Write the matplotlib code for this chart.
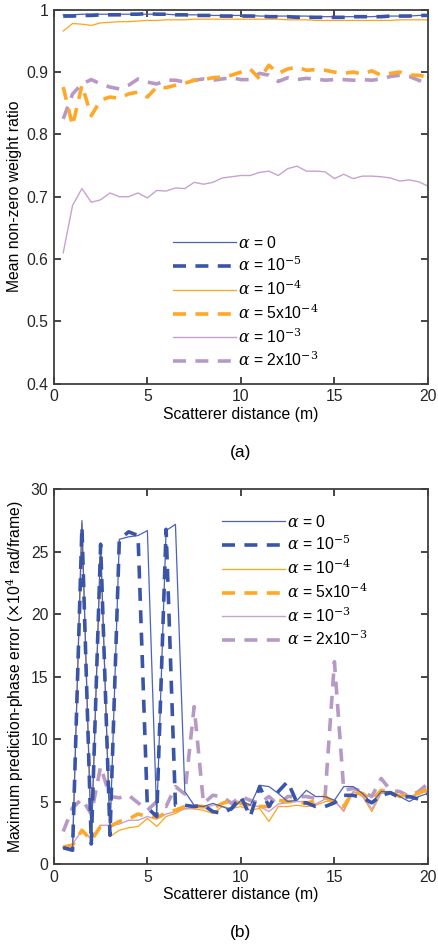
import numpy as np
import matplotlib
matplotlib.use("Agg")
import matplotlib.pyplot as plt

plt.rcParams['font.family'] = ['Liberation Sans', 'DejaVu Sans']
plt.rcParams['mathtext.fontset'] = 'dejavuserif'

dist = np.arange(0.5, 20.01, 0.5)

labels = [r'$\alpha$ = 0', r'$\alpha$ = 10$^{-5}$', r'$\alpha$ = 10$^{-4}$',
          r'$\alpha$ = 5x10$^{-4}$', r'$\alpha$ = 10$^{-3}$', r'$\alpha$ = 2x10$^{-3}$']

# (a) mean non-zero weight ratio
ratio_a0 = [0.992, 0.992, 0.993, 0.993, 0.993, 0.993, 0.993, 0.993, 0.993, 0.993,
            0.993, 0.993, 0.992, 0.992, 0.992, 0.992, 0.991, 0.991, 0.991, 0.991,
            0.991, 0.990, 0.990, 0.990, 0.990, 0.990, 0.990, 0.989, 0.989, 0.989,
            0.989, 0.989, 0.989, 0.989, 0.990, 0.990, 0.990, 0.990, 0.991, 0.991]
ratio_a1 = [0.990, 0.990, 0.991, 0.991, 0.992, 0.992, 0.992, 0.993, 0.993, 0.994,
            0.993, 0.993, 0.992, 0.992, 0.991, 0.991, 0.991, 0.990, 0.990, 0.990,
            0.990, 0.990, 0.989, 0.989, 0.989, 0.988, 0.988, 0.988, 0.988, 0.988,
            0.988, 0.989, 0.989, 0.989, 0.989, 0.990, 0.990, 0.990, 0.991, 0.991]
ratio_a2 = [0.966, 0.978, 0.977, 0.975, 0.979, 0.980, 0.981, 0.981, 0.982, 0.983,
            0.983, 0.984, 0.984, 0.984, 0.985, 0.985, 0.985, 0.985, 0.985, 0.985,
            0.985, 0.985, 0.985, 0.985, 0.984, 0.984, 0.984, 0.983, 0.983, 0.983,
            0.983, 0.983, 0.983, 0.983, 0.983, 0.983, 0.984, 0.984, 0.984, 0.984]
ratio_a3 = [0.876, 0.814, 0.879, 0.830, 0.855, 0.860, 0.858, 0.865, 0.868, 0.860,
            0.876, 0.875, 0.879, 0.882, 0.887, 0.888, 0.891, 0.892, 0.895, 0.900,
            0.905, 0.889, 0.911, 0.898, 0.905, 0.908, 0.903, 0.904, 0.903, 0.900,
            0.898, 0.900, 0.897, 0.902, 0.895, 0.898, 0.900, 0.895, 0.895, 0.892]
ratio_a4 = [0.610, 0.686, 0.713, 0.691, 0.695, 0.706, 0.700, 0.700, 0.706, 0.698,
            0.710, 0.709, 0.714, 0.713, 0.723, 0.720, 0.723, 0.730, 0.732, 0.734,
            0.734, 0.739, 0.741, 0.734, 0.745, 0.749, 0.741, 0.741, 0.740, 0.729,
            0.736, 0.729, 0.733, 0.733, 0.732, 0.730, 0.725, 0.727, 0.724, 0.717]
ratio_a5 = [0.825, 0.865, 0.881, 0.888, 0.881, 0.876, 0.873, 0.879, 0.889, 0.884,
            0.881, 0.887, 0.887, 0.884, 0.887, 0.889, 0.887, 0.889, 0.891, 0.888,
            0.888, 0.898, 0.895, 0.885, 0.891, 0.888, 0.890, 0.889, 0.887, 0.888,
            0.888, 0.887, 0.888, 0.887, 0.889, 0.893, 0.895, 0.893, 0.887, 0.881]

# (b) maximum prediction-phase error
err_a0 = [1.3, 1.2, 27.5, 1.6, 25.7, 2.3, 26.0, 26.2, 26.3, 26.7,
          3.8, 26.7, 27.2, 5.8, 4.7, 4.6, 4.85, 4.6, 4.3, 5.1,
          4.7, 6.3, 6.2, 5.65, 5.0, 5.1, 5.9, 5.4, 5.4, 5.1,
          6.2, 6.2, 5.65, 4.85, 5.8, 5.8, 5.4, 5.0, 5.4, 5.65]
err_a1 = [1.3, 1.1, 27.0, 1.6, 25.6, 2.3, 26.0, 26.6, 26.3, 4.5,
          3.8, 26.8, 4.7, 4.7, 4.6, 4.7, 4.2, 4.05, 4.45, 5.4,
          3.8, 6.2, 4.6, 5.8, 6.6, 4.9, 4.9, 4.6, 4.6, 4.9,
          5.5, 5.5, 5.3, 4.9, 5.5, 5.7, 5.3, 5.4, 5.2, 5.6]
err_a2 = [1.3, 1.4, 27.3, 1.6, 25.6, 2.2, 2.7, 2.9, 3.0, 3.65,
          3.0, 3.8, 4.05, 4.45, 4.4, 4.3, 4.05, 4.6, 4.45, 4.6,
          4.3, 4.45, 3.4, 4.6, 4.6, 4.7, 4.6, 4.7, 5.0, 5.1,
          4.2, 5.8, 5.4, 4.2, 5.65, 5.65, 5.5, 5.4, 5.65, 5.8]
err_a3 = [1.35, 1.5, 2.7, 1.9, 3.0, 3.0, 3.4, 3.6, 4.0, 3.8,
          3.7, 4.1, 4.3, 4.6, 4.65, 4.6, 4.45, 4.85, 5.1, 4.85,
          4.7, 4.6, 4.6, 5.1, 5.0, 5.0, 4.85, 5.1, 5.4, 4.85,
          4.6, 5.8, 5.65, 5.1, 5.9, 5.8, 5.4, 5.65, 5.65, 6.05]
err_a4 = [1.4, 1.6, 2.7, 2.0, 3.1, 3.1, 3.2, 3.5, 3.5, 3.8,
          3.6, 4.0, 4.2, 4.4, 4.5, 4.5, 4.7, 4.8, 5.0, 4.9,
          4.7, 4.6, 4.2, 4.8, 4.9, 5.0, 5.0, 4.8, 5.2, 5.0,
          4.3, 5.8, 5.5, 4.4, 5.7, 5.8, 5.5, 5.3, 5.6, 5.9]
err_a5 = [2.6, 4.5, 5.2, 4.0, 7.8, 5.4, 5.3, 5.5, 4.9, 4.3,
          5.0, 4.6, 6.2, 5.6, 12.6, 4.85, 5.5, 5.4, 4.85, 5.4,
          5.1, 4.85, 5.4, 4.7, 5.4, 5.4, 5.4, 5.25, 5.4, 16.2,
          5.9, 6.05, 5.8, 5.4, 6.85, 5.9, 5.8, 5.4, 5.8, 6.45]

blue = '#3A55A8'
blue_thin = '#4A63B8'
orange = '#FFA726'
orange_thin = '#FFA31A'
purple = '#C8A2CF'
purple_d = '#B799C6'

styles = [
    dict(color=blue_thin, lw=0.9, zorder=4),
    dict(color=blue, lw=2.6, dashes=(3.6, 2.6), zorder=5),
    dict(color=orange_thin, lw=0.9, zorder=2),
    dict(color=orange, lw=2.6, dashes=(3.6, 2.6), zorder=3),
    dict(color=purple, lw=1.0, zorder=2),
    dict(color=purple_d, lw=2.6, dashes=(3.6, 2.6), zorder=2),
]

fs = 11.3

fig = plt.figure(figsize=(4.38, 9.46), dpi=100)
ax1 = fig.add_axes([0.123, 0.5946, 0.854, 0.395])
ax2 = fig.add_axes([0.123, 0.0867, 0.854, 0.396])

for s, y, lab in zip(styles, [ratio_a0, ratio_a1, ratio_a2, ratio_a3, ratio_a4, ratio_a5], labels):
    ax1.plot(dist, y, label=lab, **s)
for s, y, lab in zip(styles, [err_a0, err_a1, err_a2, err_a3, err_a4, err_a5], labels):
    ax2.plot(dist, y, label=lab, **s)

ax1.set_xlim(0, 20)
ax1.set_ylim(0.4, 1)
ax1.set_yticks([0.4, 0.5, 0.6, 0.7, 0.8, 0.9, 1.0])
ax1.set_yticklabels(['0.4', '0.5', '0.6', '0.7', '0.8', '0.9', '1'])
ax1.set_ylabel('Mean non-zero weight ratio', fontsize=fs, labelpad=3)

ax2.set_xlim(0, 20)
ax2.set_ylim(0, 30)
ax2.set_yticks(range(0, 31, 5))
ax2.set_ylabel(r'Maximum prediction-phase error ($\times$10$^4$ rad/frame)', fontsize=fs, labelpad=3)

for ax in (ax1, ax2):
    ax.set_xticks([0, 5, 10, 15, 20])
    ax.set_xlabel('Scatterer distance (m)', fontsize=fs, labelpad=2)
    ax.tick_params(direction='in', length=5, width=1.2, top=True, right=True,
                   labelsize=fs, colors='#262626', pad=4)
    for sp in ax.spines.values():
        sp.set_linewidth(1.3)
        sp.set_color('#404040')

leg_kw = dict(frameon=False, fontsize=fs, handlelength=4.0, handletextpad=0.15,
              labelspacing=0.3, borderpad=0, borderaxespad=0, loc='upper left')
ax1.legend(bbox_to_anchor=(0.318, 0.398), **leg_kw)
ax2.legend(bbox_to_anchor=(0.449, 0.935), **leg_kw)

fig.text(0.55, 1 - 452 / 946, '(a)', ha='center', va='center', fontsize=12.5)
fig.text(0.55, 1 - 932 / 946, '(b)', ha='center', va='center', fontsize=12.5)

fig.savefig('out.png', dpi=100)
